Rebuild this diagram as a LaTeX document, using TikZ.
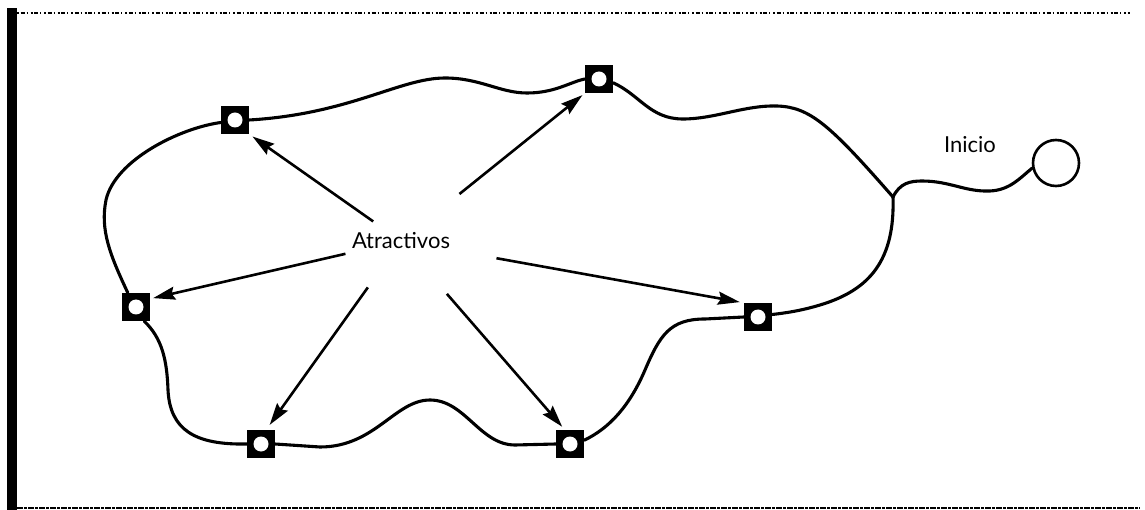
\documentclass[tikz,border=0pt]{standalone}
\usepackage{fontspec}
\setmainfont{Lato}
\usetikzlibrary{arrows.meta}
\begin{document}
\begin{tikzpicture}[x=1pt,y=-1pt,
  stop/.style={rectangle, fill=black, minimum size=28pt, inner sep=0pt,
    path picture={\fill[white] (path picture bounding box.center) circle (7.5pt);}},
  route/.style={line width=3.1pt, line join=round, line cap=round},
  arr/.style={line width=2.6pt, -{Stealth[length=22pt,width=13pt,inset=3pt]}},
  lbl/.style={font=\fontsize{22}{26}\selectfont, inner sep=0pt}]
\useasboundingbox (0,0) rectangle (1145,510);
% frame
\fill (7,8) rectangle (17,510);
\draw[line width=1.2pt, dash pattern=on 2pt off 1.5pt on 4pt off 2pt on 1pt off 3pt] (17,13) -- (1130,13);
\draw[line width=1.6pt, dash pattern=on 6pt off 1pt on 3pt off 1pt] (17,508) -- (1140,508);
% nodes
\node[stop] (n1) at (235,120) {};
\node[stop] (n2) at (599,79) {};
\node[stop] (n3) at (136,307) {};
\node[stop] (n4) at (261,444) {};
\node[stop] (n5) at (570,444) {};
\node[stop] (n6) at (758,317) {};
\node[circle, draw, line width=2.6pt, minimum size=46pt, inner sep=0pt] (st) at (1056,163) {};
\node[lbl] (ini) at (970,145) {Inicio};
\node[lbl] (a) at (401,241) {Atractivos};
\coordinate (j) at (893,197);
% route
\draw[route] (n1.east) .. controls (350,114) and (400,78) .. (445,78)
  .. controls (480,78) and (500,93) .. (527,93)
  .. controls (555,93) and (570,82) .. (n2.west);
\draw[route] (n2.-15) .. controls (640,95) and (650,119) .. (683,119)
  .. controls (715,119) and (745,105) .. (777,106)
  .. controls (810,107) and (830,125) .. (j);
\draw[route] (j) .. controls (895,260) and (870,290) .. (820,305)
  .. controls (800,311) and (785,313) .. (n6.10);
\draw[route] (n6.west) -- (705,319) .. controls (670,319) and (660,335) .. (645,370)
  .. controls (630,405) and (610,428) .. (n5.15);
\draw[route] (n5.west) -- (515,445) .. controls (480,445) and (465,400) .. (430,400)
  .. controls (395,400) and (375,447) .. (320,447) -- (n4.east);
\draw[route] (n4.west) .. controls (195,445) and (170,430) .. (168,390)
  .. controls (167,360) and (162,338) .. (n3.-60);
\draw[route] (n3.120) .. controls (110,255) and (100,230) .. (106,200)
  .. controls (115,160) and (180,128) .. (n1.190);
\draw[route] (j) .. controls (900,183) and (910,181) .. (922,181)
  .. controls (950,181) and (965,192) .. (990,191)
  .. controls (1010,190) and (1020,178) .. (st.192);
% arrows
\draw[arr, shorten <=34pt, shorten >=4pt] (a.center) -- (n1.south east);
\draw[arr, shorten <=75pt, shorten >=3pt] (a.center) -- (n2.south west);
\draw[arr, shorten <=57pt, shorten >=3pt] (a.center) -- (n3.30);
\draw[arr, shorten <=57pt, shorten >=6pt] (a.center) -- (n4.70);
\draw[arr, shorten <=70pt, shorten >=4pt] (a.center) -- (n5.110);
\draw[arr, shorten <=97pt, shorten >=4pt] (a.center) -- (n6.north west);
\end{tikzpicture}
\end{document}
